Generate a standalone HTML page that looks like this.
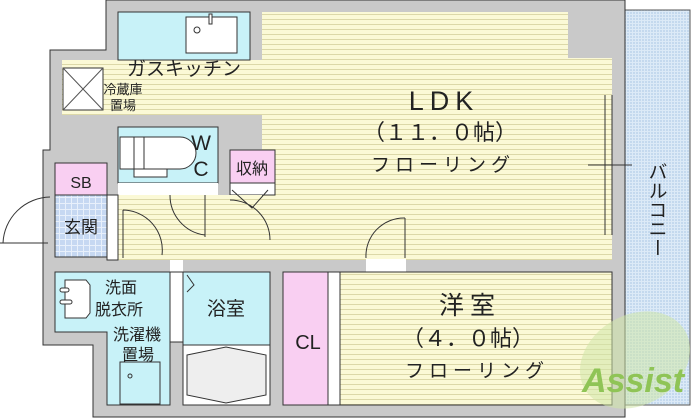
<!DOCTYPE html>
<html><head><meta charset="utf-8"><style>
html,body{margin:0;padding:0;background:#fff}
svg{display:block}
text{font-family:"Liberation Sans","Noto Sans CJK JP",sans-serif;fill:#222}
</style></head><body>
<svg width="700" height="418" viewBox="0 0 700 418" xmlns="http://www.w3.org/2000/svg">
<defs>
<pattern id="fl" width="6" height="5" patternUnits="userSpaceOnUse">
<rect width="6" height="5" fill="#fbf9d6"/><rect y="4" width="6" height="1" fill="#dcd8a8"/>
</pattern>
<pattern id="tile" width="6" height="6" patternUnits="userSpaceOnUse">
<rect width="6" height="6" fill="#e8f0fb"/><rect width="5" height="5" fill="#c6d8f2"/>
</pattern>
<pattern id="bal" width="3" height="3" patternUnits="userSpaceOnUse">
<rect width="3" height="3" fill="#dceaf7"/><rect width="2" height="2" fill="#c4d9ee"/>
</pattern>
</defs>
<g stroke="#333" stroke-width="1">
<rect x="625" y="10" width="65" height="395" fill="url(#bal)" stroke="#555"/>
<path d="M106 0 H625 V417 H93 V405 H93 V345 H43 V150 H50 V50 H106 Z" fill="#c9c9c9"/>
</g>
<rect x="262" y="12" width="350" height="248" fill="url(#fl)"/>
<rect x="568" y="12" width="44" height="46" fill="#c9c9c9"/>
<rect x="62" y="60" width="200" height="55" fill="url(#fl)"/>
<rect x="118" y="12" width="132" height="48" fill="#c8f2f8" stroke="#333"/>
<rect x="186" y="17" width="51" height="36" fill="#fff" stroke="#333"/>
<circle cx="197" cy="30" r="3" fill="none" stroke="#333"/>
<rect x="209" y="14" width="3" height="10" fill="#fff" stroke="#333"/>
<rect x="63" y="68" width="40" height="42" fill="#fff" stroke="#333"/>
<path d="M63 68 L103 110 M103 68 L63 110" stroke="#555"/>
<rect x="118" y="127" width="100" height="56" fill="#c8f2f8" stroke="#333"/>
<path d="M120 137 H180 A16 16 0 0 1 180 169 H120 Z" fill="#fff" stroke="#333"/>
<rect x="134" y="137" width="10" height="32" fill="#fff" stroke="#333"/>
<rect x="134" y="169" width="33" height="8" fill="#fff" stroke="#333"/>
<rect x="230" y="150" width="45" height="33" fill="#f9cff2" stroke="#333"/>
<rect x="230" y="183" width="45" height="12" fill="#fff" stroke="#333"/>
<rect x="118" y="183" width="100" height="12" fill="#fff"/>
<rect x="55" y="163" width="52" height="32" fill="#f9cff2" stroke="#333"/>
<rect x="55" y="195" width="52" height="62" fill="url(#tile)" stroke="#333"/>
<rect x="118" y="195" width="144" height="65" fill="url(#fl)"/>
<rect x="107" y="195" width="11" height="65" fill="#fff" stroke="#333"/>
<g fill="none" stroke="#333">
<path d="M3 243 A48 48 0 0 1 50 197 M0 243 H48"/>
<path d="M123 210 A40 40 0 0 1 162 255 M123 210 V258"/>
<path d="M170 195 A40 40 0 0 0 205 235 M205 195 V237"/>
<path d="M230 200 A40 40 0 0 1 270 240 M232 190 L252 208 L268 190"/>
<path d="M366 258 A38 38 0 0 1 405 218 M405 218 V258"/>
<path d="M612 95 V235 M605 95 V235 M588 165 H632"/>
<path d="M612 292 V390 M605 292 V390"/>
</g>
<rect x="170" y="260" width="13" height="12" fill="#fff"/>
<rect x="366" y="259" width="40" height="13" fill="#fff"/>
<path d="M55 272 H170 V405 H107 V332 H55 Z" fill="#c8f2f8" stroke="#333"/>
<path d="M65 280 H86 L90 285 V313 L86 318 H65 Z" fill="#fff" stroke="#333"/>
<rect x="60" y="288" width="9" height="4" fill="#fff" stroke="#333" rx="2"/>
<rect x="60" y="300" width="12" height="4" fill="#fff" stroke="#333" rx="2"/>
<rect x="120" y="362" width="40" height="42" fill="#c8f2f8" stroke="#333"/>
<circle cx="130" cy="376" r="2" fill="none" stroke="#333"/>
<rect x="170" y="272" width="13" height="70" fill="#fff" stroke="#333"/>
<rect x="183" y="272" width="87" height="133" fill="#c8f2f8" stroke="#333"/>
<rect x="183" y="345" width="87" height="60" fill="#fff" stroke="#333"/>
<path d="M187 355 L226 347 L266 355 V395 L226 403 L187 395 Z" fill="#eee" stroke="#333"/>
<path d="M187 275 L194 285 L187 292" fill="none" stroke="#333"/>
<rect x="283" y="272" width="45" height="133" fill="#f9cff2" stroke="#333"/>
<rect x="328" y="272" width="12" height="133" fill="#fff" stroke="#333"/>
<rect x="340" y="272" width="272" height="133" fill="url(#fl)" stroke="#333"/>
<ellipse cx="635" cy="360" rx="58" ry="45" fill="#cfe6a8" opacity="0.55" transform="rotate(-30 635 360)"/>
<text x="582" y="392" font-size="34" font-weight="bold" style="fill:#8fc456;font-style:italic">Assist</text>
<text x="184" y="75" font-size="19" text-anchor="middle">ガスキッチン</text>
<text x="123" y="94" font-size="13" text-anchor="middle">冷蔵庫</text>
<text x="123" y="110" font-size="13" text-anchor="middle">置場</text>
<text x="201" y="150" font-size="21" text-anchor="middle">W</text>
<text x="201" y="176" font-size="21" text-anchor="middle">C</text>
<text x="252" y="174" font-size="16" text-anchor="middle">収納</text>
<text x="81" y="188" font-size="16" text-anchor="middle">SB</text>
<text x="81" y="233" font-size="17" text-anchor="middle">玄関</text>
<text x="444" y="110" font-size="27" text-anchor="middle" letter-spacing="6">LDK</text>
<text x="440" y="140" font-size="22" text-anchor="middle">（１１．０帖）</text>
<text x="443" y="171" font-size="19" text-anchor="middle" letter-spacing="5">フローリング</text>
<text x="470" y="314" font-size="25" text-anchor="middle" letter-spacing="6">洋室</text>
<text x="468" y="346" font-size="22" text-anchor="middle">（４．０帖）</text>
<text x="477" y="377" font-size="19" text-anchor="middle" letter-spacing="5">フローリング</text>
<text x="121" y="293" font-size="16" text-anchor="middle">洗面</text>
<text x="119" y="315" font-size="16" text-anchor="middle">脱衣所</text>
<text x="137" y="340" font-size="16" text-anchor="middle">洗濯機</text>
<text x="138" y="360" font-size="16" text-anchor="middle">置場</text>
<text x="226" y="315" font-size="19" text-anchor="middle">浴室</text>
<text x="308" y="349" font-size="20" text-anchor="middle">CL</text>
<text font-size="19" x="656" y="162" style="writing-mode:vertical-rl">バルコニー</text>
</svg>
</body></html>
